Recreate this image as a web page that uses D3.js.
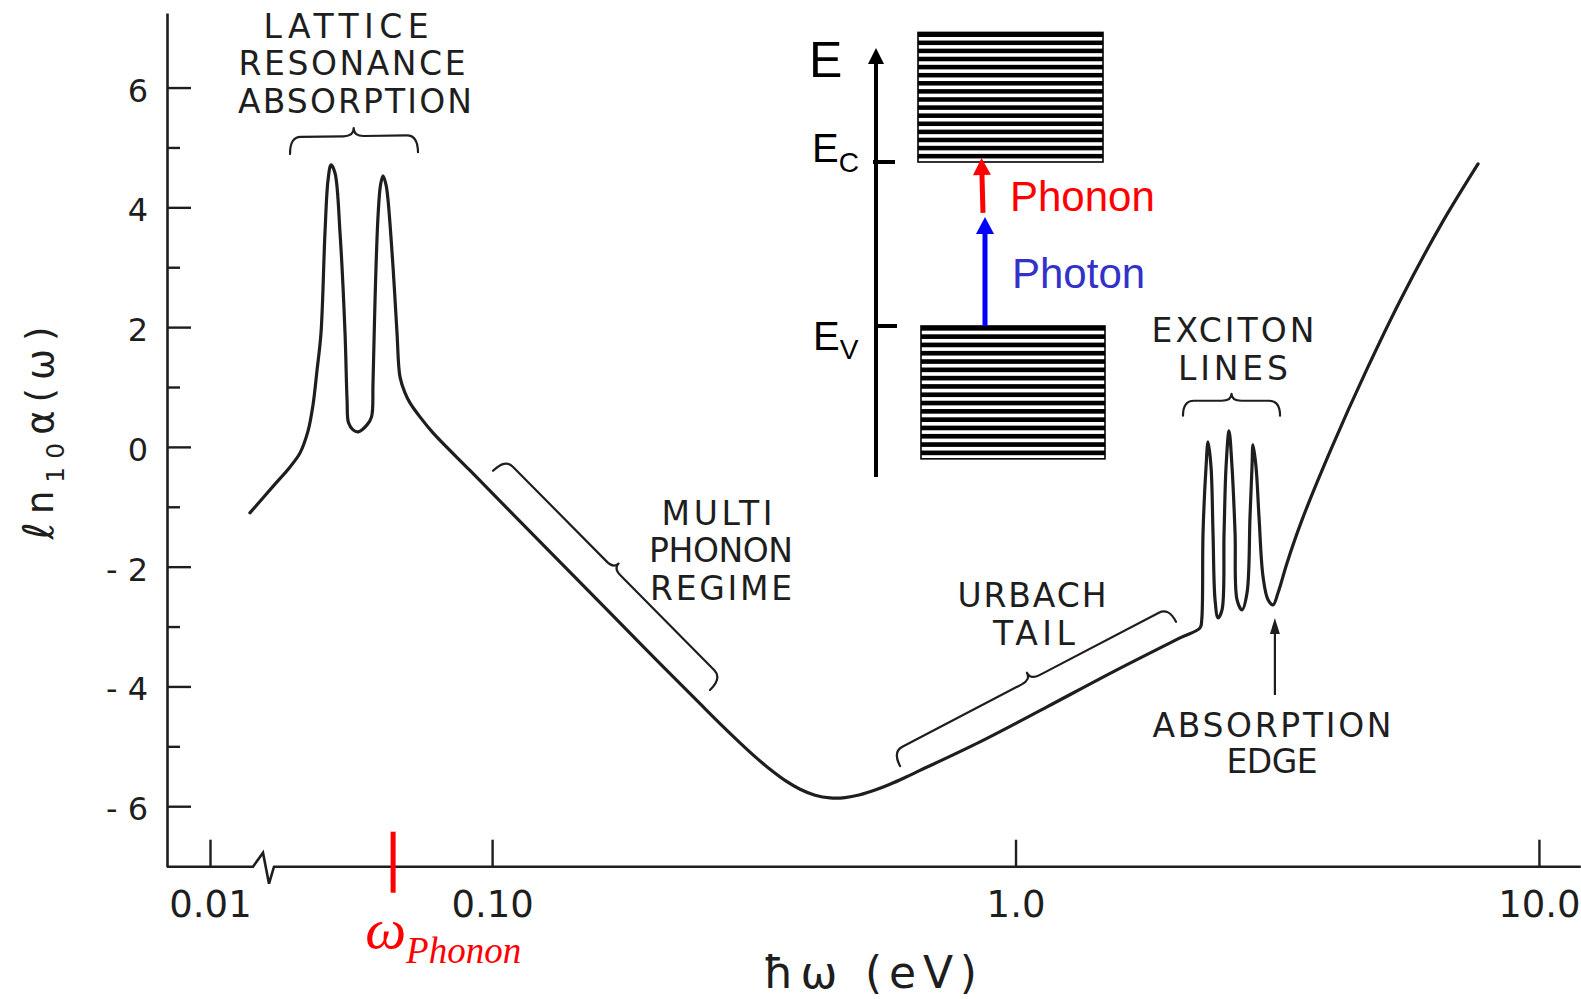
<!DOCTYPE html>
<html>
<head>
<meta charset="utf-8">
<script src="https://cdn.jsdelivr.net/npm/d3@7"></script>
<style>
  html, body { margin: 0; padding: 0; background: #fff; }
  svg { display: block; }
</style>
</head>
<body>
<svg id="chart" width="1581" height="999"></svg>
<script>
// Photon energy ħω (eV) along the absorption trace
const energy = [
  0.03446, 0.03814, 0.04111, 0.04296, 0.04450, 0.04548, 0.04630, 0.04711, 0.04794, 0.04859,
  0.04923, 0.05010, 0.05122, 0.05236, 0.05283, 0.05317, 0.05424, 0.05545, 0.05768, 0.05884,
  0.05922, 0.05975, 0.06053, 0.06121, 0.06189, 0.06271, 0.06326, 0.06467, 0.06581, 0.06668,
  0.06817, 0.06968, 0.07280,
  0.07711, 0.09073, 0.11305, 0.1492, 0.1917, 0.2496,
  0.2725, 0.2976, 0.3179, 0.3396, 0.3627, 0.3876, 0.4140, 0.4422, 0.4723, 0.5046,
  0.5390, 0.5757, 0.6150, 0.6569,
  0.8553, 1.1486, 1.5358, 2.0621, 2.2519,
  2.2687, 2.2818, 2.3121, 2.3325, 2.3633, 2.3841, 2.4056, 2.4374, 2.4805, 2.5028,
  2.5248, 2.5582, 2.5920, 2.6269, 2.6500, 2.7086, 2.7691, 2.8054, 2.8301, 2.8431,
  2.8807, 2.9188, 2.9711, 3.0369, 3.1046, 3.1735, 3.3019, 3.5270, 4.0245, 4.6948,
  5.4752, 6.5299, 7.6505
];

// ln10 α(ω) at each energy
const lnAlpha = [
  -1.102, -0.659, -0.334, -0.100, 0.267, 0.701, 1.285, 1.903, 3.573, 4.457,
  4.708, 4.574, 3.573, 1.903, 0.785, 0.401, 0.284, 0.250, 0.367, 0.501,
  1.068, 2.454, 3.840, 4.374, 4.524, 4.374, 4.124, 3.005, 1.903, 1.169,
  0.902, 0.735, 0.501,
  0.234, -0.394, -1.244, -2.314, -3.280, -4.289,
  -4.621, -4.942, -5.172, -5.384, -5.569, -5.716, -5.816, -5.861, -5.856, -5.808,
  -5.730, -5.633, -5.521, -5.402,
  -4.925, -4.341, -3.756, -3.189, -3.022,
  -2.888, -1.436, -0.334, 0.083, -0.334, -1.436, -2.554, -2.855, -2.721, -1.436,
  -0.334, 0.267, -0.334, -1.436, -2.554, -2.721, -2.437, -1.169, -0.334, 0.033,
  -0.334, -1.169, -2.170, -2.554, -2.638, -2.437, -1.937, -1.219, 0.000, 1.302,
  2.504, 3.740, 4.725
];

const xTickValues = [0.01, 0.1, 1, 10];
const xTickLabels = ["0.01", "0.10", "1.0", "10.0"];
const yMajorTicks = [-6, -4, -2, 0, 2, 4, 6];
const yMinorTicks = [-5, -3, -1, 1, 3, 5];

const phononEnergy = 0.0647;          // ω_Phonon marker on the energy axis
const edgeEnergy = 3.13;              // absorption edge
const edgeValue = -2.64;
const axisBreakEnergy = 0.0365;

// Region annotations: brace ends as [energy, lnAlpha] pairs
const braceStart = [[0.04111, 4.89], [0.1004, -0.40], [0.6017, -5.33], [2.089, 0.52]];
const braceEnd   = [[0.07218, 4.92], [0.2608, -4.06], [2.026, -2.92], [3.202, 0.52]];

// Band diagram (energies relative to Ev = 0, Ec = 1)
const bandLevels = 16;
const conductionBand = [1.0, 1.79];
const valenceBand = [-0.81, 0.0];
const photonStep = [0.0, 0.665];
const phononStep = [0.69, 1.025];

// ---------------------------------------------------------------------------
const svg = d3.select("#chart");
const ink = "#1e1e1e";
const sans = "'DejaVu Sans', sans-serif";

// Broken log energy axis: the stub left of the break holds only 0.01 eV
const x = d3.scaleLinear()
  .domain([-3.05, -2, -1.5, 1.08])
  .range([167, 210, 230.4, 1580.8]);
const xe = E => x(Math.log10(E));
const y = d3.scaleLinear().domain([-7.01, 7.245]).range([866.7, 13]);
const axisY = y(-7.01);

// ---- y axis
const yAxis = svg.append("g").attr("transform", `translate(${x.range()[0]},0)`)
  .call(d3.axisLeft(y).tickValues(yMajorTicks).tickSizeInner(-24).tickSizeOuter(0)
    .tickPadding(19).tickFormat(d => d < 0 ? "- " + (-d) : String(d)));
yAxis.select(".domain").attr("stroke", ink).attr("stroke-width", 2.6);
yAxis.selectAll(".tick line").attr("stroke", ink).attr("stroke-width", 2.4);
yAxis.selectAll(".tick text").attr("font-family", sans).attr("font-size", 32)
  .attr("fill", ink).attr("dy", "0.42em");

const yMinor = svg.append("g").attr("transform", `translate(${x.range()[0]},0)`)
  .call(d3.axisLeft(y).tickValues(yMinorTicks).tickSizeInner(-13).tickSizeOuter(0).tickFormat(""));
yMinor.select(".domain").remove();
yMinor.selectAll(".tick line").attr("stroke", ink).attr("stroke-width", 2.4);

// ---- x axis
const xAxis = svg.append("g").attr("transform", `translate(0,${axisY})`)
  .call(d3.axisBottom(x).tickValues(xTickValues.map(Math.log10)).tickSizeInner(-27)
    .tickSizeOuter(0).tickPadding(24).tickFormat((d, i) => xTickLabels[i]));
xAxis.select(".domain").remove();
xAxis.selectAll(".tick line").attr("stroke", ink).attr("stroke-width", 2.4);
xAxis.selectAll(".tick text").attr("font-family", sans).attr("font-size", 37).attr("fill", ink);

// axis line with the break mark
const bx = xe(axisBreakEnergy);
svg.append("path")
  .attr("d", `M${x.range()[0]},${axisY}H${bx - 10}L${bx},${axisY - 14}L${bx + 6},${axisY + 17}L${bx + 11},${axisY}H${x.range()[3]}`)
  .attr("fill", "none").attr("stroke", ink).attr("stroke-width", 2.6).attr("stroke-linejoin", "miter");

// ---- absorption curve
const pts = energy.map((E, i) => [E, lnAlpha[i]]);
svg.append("path")
  .datum(pts)
  .attr("d", d3.line().x(d => xe(d[0])).y(d => y(d[1])).curve(d3.curveCatmullRom.alpha(0.5)))
  .attr("fill", "none").attr("stroke", ink).attr("stroke-width", 3.2)
  .attr("stroke-linejoin", "round").attr("stroke-linecap", "round");

// ---- braces
function bracePath(p0, p1, h1, h) {
  const dx = p1[0] - p0[0], dy = p1[1] - p0[1];
  const L = Math.hypot(dx, dy);
  const t = [dx / L, dy / L], n = [t[1], -t[0]];
  const P = (u, v) => `${p0[0] + u * t[0] + v * n[0]},${p0[1] + u * t[1] + v * n[1]}`;
  const r = 11, r2 = 10, m = L / 2;
  return `M${P(0, 0)}Q${P(0, h1)} ${P(r, h1)}L${P(m - r2, h1)}Q${P(m, h1)} ${P(m, h)}` +
         `Q${P(m, h1)} ${P(m + r2, h1)}L${P(L - r, h1)}Q${P(L, h1)} ${P(L, 0)}`;
}
const braceDims = [[17, 25], [17, 24], [16, 24], [15, 22]];
braceStart.forEach((s, i) => {
  const a = [xe(s[0]), y(s[1])], b = [xe(braceEnd[i][0]), y(braceEnd[i][1])];
  svg.append("path").attr("d", bracePath(a, b, braceDims[i][0], braceDims[i][1]))
    .attr("fill", "none").attr("stroke", ink).attr("stroke-width", 2.2)
    .attr("stroke-linecap", "round").attr("stroke-linejoin", "round");
});

// ---- region labels
const labels = [
  ["LATTICE", 346, 38, 165], ["RESONANCE", 352, 75, 227], ["ABSORPTION", 355, 113, 234],
  ["MULTI", 717, 525, 111], ["PHONON", 721, 562, 144], ["REGIME", 721, 600, 142],
  ["URBACH", 1032, 607, 149], ["TAIL", 1034, 645, 82],
  ["EXCITON", 1233, 342, 163], ["LINES", 1233, 380, 110],
  ["ABSORPTION", 1272, 737, 239], ["EDGE", 1272, 773, 91]
];
svg.append("g").selectAll("text").data(labels).join("text")
  .attr("x", d => d[1]).attr("y", d => d[2])
  .attr("text-anchor", "middle").attr("font-family", sans).attr("font-size", 33)
  .attr("fill", ink).attr("textLength", d => d[3]).attr("lengthAdjust", "spacing")
  .text(d => d[0]);

// absorption-edge arrow
const ex = xe(edgeEnergy), ey = y(edgeValue) + 13;
svg.append("line").attr("x1", ex).attr("x2", ex).attr("y1", ey + 77).attr("y2", ey + 10)
  .attr("stroke", ink).attr("stroke-width", 2.2);
svg.append("path").attr("d", `M${ex},${ey}L${ex - 5},${ey + 16}L${ex + 5},${ey + 16}Z`).attr("fill", ink);

// ---- axis titles
svg.append("text").attr("x", 870).attr("y", 988).attr("text-anchor", "middle")
  .attr("font-family", sans).attr("font-size", 44).attr("fill", ink)
  .attr("textLength", 214).attr("lengthAdjust", "spacing").text("ħω (eV)");

const yl = svg.append("text").attr("transform", "translate(53,433) rotate(-90)")
  .attr("text-anchor", "middle").attr("font-family", sans).attr("font-size", 37)
  .attr("fill", ink).attr("textLength", 213).attr("lengthAdjust", "spacing");
yl.append("tspan").attr("font-size", 42).text("ℓ");
yl.append("tspan").text("n");
yl.append("tspan").attr("font-size", 25).attr("dy", 11).text("10");
yl.append("tspan").attr("dy", -11).text("α(ω)");

// ---- ω_Phonon marker
const px = xe(phononEnergy);
svg.append("line").attr("x1", px).attr("x2", px).attr("y1", axisY - 35).attr("y2", axisY + 26)
  .attr("stroke", "#ff0000").attr("stroke-width", 5);
const wl = svg.append("text").attr("x", px - 28).attr("y", 948)
  .attr("font-family", "'Liberation Serif', serif").attr("font-style", "italic")
  .attr("fill", "#ff0000").attr("font-size", 58);
wl.append("tspan").text("ω");
wl.append("tspan").attr("font-size", 37).attr("dy", 15).text("Phonon");

// ---- band diagram
const band = d3.scaleLinear().domain([0, 1]).range([326, 162]);
const arial = "'Liberation Sans', Arial, sans-serif";
const inset = svg.append("g");
const axX = 876;

// energy axis with arrow
inset.append("line").attr("x1", axX).attr("x2", axX).attr("y1", band(-0.92)).attr("y2", band(1.60))
  .attr("stroke", "#000").attr("stroke-width", 4);
const tipY = band(1.695);
inset.append("path").attr("d", `M${axX},${tipY}L${axX - 8},${tipY + 16}L${axX + 8},${tipY + 16}Z`).attr("fill", "#000");
inset.append("line").attr("x1", axX - 3).attr("x2", axX + 19).attr("y1", band(1)).attr("y2", band(1))
  .attr("stroke", "#000").attr("stroke-width", 4);
inset.append("line").attr("x1", axX + 2).attr("x2", axX + 21).attr("y1", band(0)).attr("y2", band(0))
  .attr("stroke", "#000").attr("stroke-width", 4);

inset.append("text").attr("x", 809).attr("y", 77).attr("font-family", arial).attr("font-size", 50)
  .attr("fill", "#000").text("E");
const ec = inset.append("text").attr("x", 812).attr("y", band(1)).attr("font-family", arial)
  .attr("font-size", 40).attr("fill", "#000");
ec.append("tspan").text("E");
ec.append("tspan").attr("font-size", 28).attr("dy", 10).text("C");
const ev = inset.append("text").attr("x", 813).attr("y", band(0) + 24).attr("font-family", arial)
  .attr("font-size", 40).attr("fill", "#000");
ev.append("tspan").text("E");
ev.append("tspan").attr("font-size", 28).attr("dy", 9).text("V");

// striped bands
function drawBand(range, x0, x1) {
  const top = band(range[1]), bot = band(range[0]);
  const g = inset.append("g");
  g.append("rect").attr("x", x0).attr("y", top).attr("width", x1 - x0).attr("height", bot - top)
    .attr("fill", "#fff").attr("stroke", "#000").attr("stroke-width", 1.6);
  const step = (bot - top) / bandLevels;
  g.selectAll("rect.level").data(d3.range(bandLevels)).join("rect").attr("class", "level")
    .attr("x", x0).attr("width", x1 - x0)
    .attr("y", i => top + i * step).attr("height", step * 0.56).attr("fill", "#000");
}
drawBand(conductionBand, 918, 1103);
drawBand(valenceBand, 921, 1105);

function arrow(x1, y1, x2, y2, color) {
  const L = Math.hypot(x2 - x1, y2 - y1), ux = (x2 - x1) / L, uy = (y2 - y1) / L;
  const hl = 17, hw = 9;
  const bxp = x2 - ux * hl, byp = y2 - uy * hl;
  inset.append("line").attr("x1", x1).attr("y1", y1).attr("x2", bxp + ux * 2).attr("y2", byp + uy * 2)
    .attr("stroke", color).attr("stroke-width", 5);
  inset.append("path")
    .attr("d", `M${x2},${y2}L${bxp - uy * hw},${byp + ux * hw}L${bxp + uy * hw},${byp - ux * hw}Z`)
    .attr("fill", color);
}
arrow(985, band(photonStep[0]), 985, band(photonStep[1]), "#0000ff");
arrow(983, band(phononStep[0]), 981.5, band(phononStep[1]), "#ff0000");

inset.append("text").attr("x", 1010).attr("y", 211).attr("font-family", arial).attr("font-size", 42)
  .attr("fill", "#ff0000").text("Phonon");
inset.append("text").attr("x", 1012).attr("y", 288).attr("font-family", arial).attr("font-size", 42)
  .attr("fill", "#3232c8").text("Photon");
</script>
</body>
</html>
